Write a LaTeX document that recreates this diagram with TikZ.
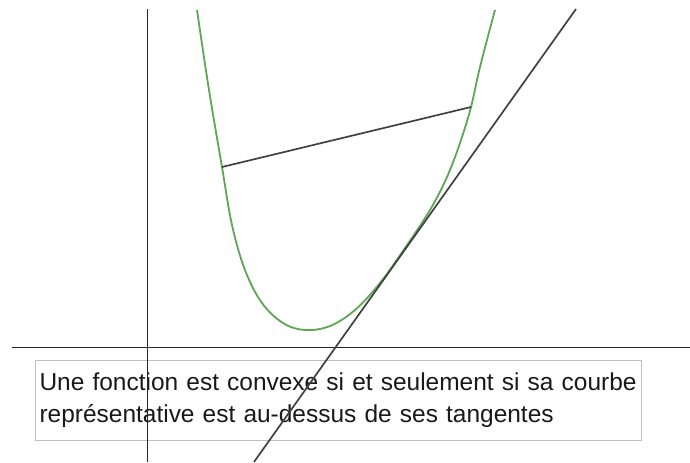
\documentclass[tikz,border=0pt]{standalone}
\usepackage{fontspec}
\setmainfont{Liberation Sans}
\definecolor{vertcourbe}{RGB}{96,166,88}
\begin{document}
\begin{tikzpicture}[x=0.025cm, y=-0.025cm,
      axis/.style={black!85, line width=0.6pt},
      courbe/.style={draw=vertcourbe, line width=1.3pt},
      segment/.style={black!75, line width=1.2pt},
      legende/.style={draw=black!25, line width=0.8pt, anchor=north west, align=left,
        minimum width=15.125cm, minimum height=2cm, text width=14.95cm, inner sep=0.1cm,
        font=\fontsize{17.4}{22.8}\selectfont, text=black!90}]
    \useasboundingbox (0,0) rectangle (690,462);
    \node[legende] (texte) at (35,360) {Une fonction est convexe si et seulement si sa courbe\\repr\'esentative est au-dessus de ses tangentes};
    % axes
    \coordinate (xmin) at (12,347);
    \coordinate (xmax) at (690,347);
    \coordinate (ymin) at (147,462);
    \coordinate (ymax) at (147,9);
    \draw[axis] (xmin) -- (xmax);
    \draw[axis] (ymin) -- (ymax);
    % courbe convexe
    \draw[courbe] plot[smooth, tension=0.6] coordinates {(197,10) (209,90) (222,167) (232,225) (245,270)
      (262,303) (283,323) (305,330) (330,326) (355,310) (380,283) (405,248) (430,210) (447,177)
      (460,143) (471,107) (480,67) (495,10)};
    % corde
    \coordinate (cordeA) at (222,167);
    \coordinate (cordeB) at (471,107);
    \draw[segment] (cordeA) -- (cordeB);
    % tangente
    \coordinate (tanbas) at (254,462);
    \coordinate (tanhaut) at (576,9);
    \draw[segment] (tanbas) -- (tanhaut);
\end{tikzpicture}
\end{document}
